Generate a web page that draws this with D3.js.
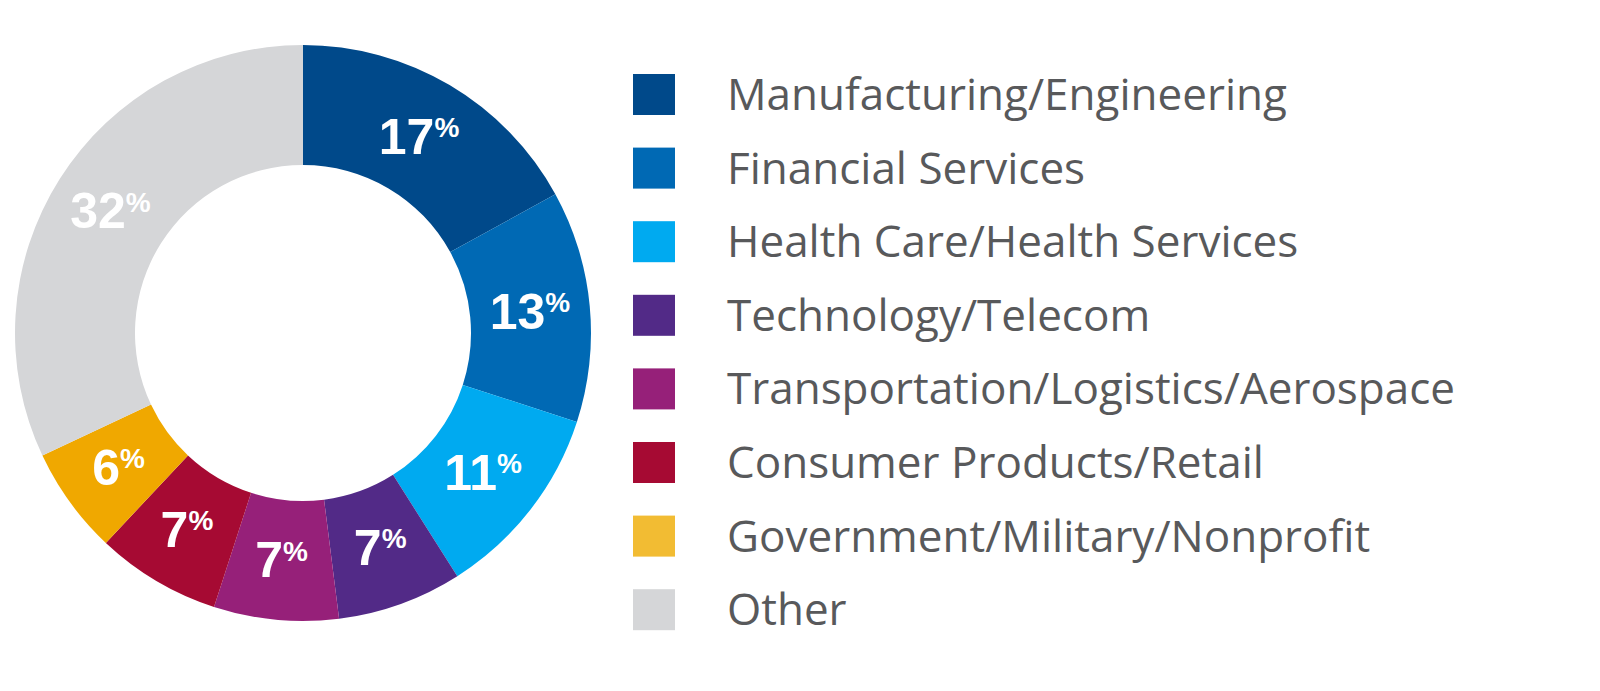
<!DOCTYPE html>
<html><head><meta charset="utf-8">
<script src="https://cdn.jsdelivr.net/npm/d3@7"></script>
<style>body{margin:0;background:#fff}</style></head>
<body><svg id="c" width="1600" height="691"></svg>
<script>
const categories=["Manufacturing/Engineering","Financial Services","Health Care/Health Services","Technology/Telecom","Transportation/Logistics/Aerospace","Consumer Products/Retail","Government/Military/Nonprofit","Other"];
const values=[17,13,11,7,7,7,6,32];
const colors=["#00498a","#0069b4","#00aaf0","#522a87","#962079","#a60a33","#f0a800","#d5d6d8"];
const legendColors=["#00498a","#0069b4","#00aaf0","#522a87","#962079","#a60a33","#f2bc33","#d5d6d8"];
const svg=d3.select("#c");
const g=svg.append("g").attr("transform","translate(303,333)");
const pie=d3.pie().sort(null).value(d=>d)(values);
const arc=d3.arc().innerRadius(168).outerRadius(288);
const lab=d3.arc().innerRadius(228).outerRadius(228);
g.selectAll("path").data(pie).join("path").attr("d",arc).attr("fill",(d,i)=>colors[i]);
const t=g.selectAll("text").data(pie).join("text")
 .attr("transform",d=>`translate(${lab.centroid(d)})`).attr("text-anchor","middle").attr("dy","0.35em")
 .attr("fill","#fff").attr("font-family","Liberation Sans Narrow, Arial Narrow, Liberation Sans, sans-serif").attr("font-weight","bold").attr("font-size",50);
t.append("tspan").text(d=>d.value);
t.append("tspan").text("%").attr("font-size",28).attr("dy","-0.6em");
const lg=svg.append("g");
categories.forEach((c,i)=>{
 const y=74+i*73.6;
 lg.append("rect").attr("x",633).attr("y",y).attr("width",42).attr("height",41).attr("fill",legendColors[i]);
 lg.append("text").attr("x",727).attr("y",y+36).text(c).attr("fill","#58595b")
  .attr("font-family","Open Sans, sans-serif").attr("font-size",44);
});
</script></body></html>
